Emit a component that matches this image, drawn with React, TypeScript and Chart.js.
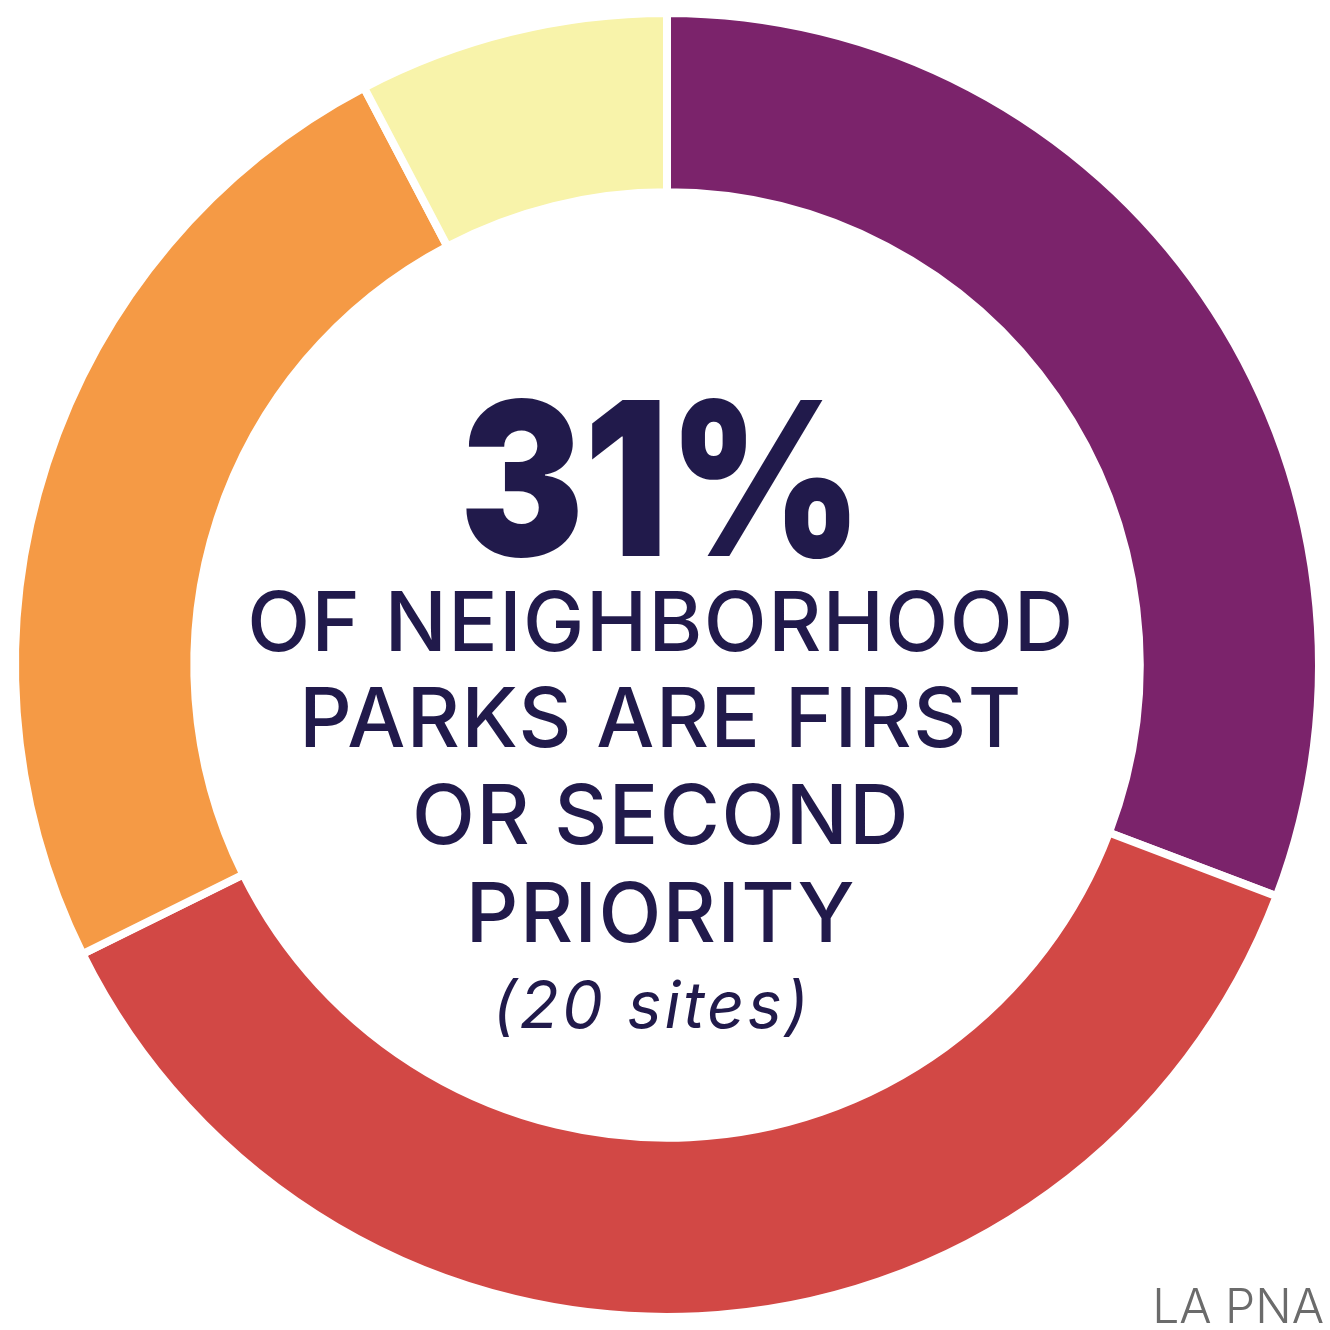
import React, { useEffect, useRef } from "react";
import { Chart, registerables } from "chart.js";

Chart.register(...registerables);

const categories = ["First or second priority", "Third priority", "Fourth priority", "Fifth priority"];
const siteCounts = [20, 24, 16, 5];
const segmentColors = ["#7B236B", "#D24845", "#F59A45", "#F8F3AA"];

const headline = "31%";
const bodyLines = ["OF NEIGHBORHOOD", "PARKS ARE FIRST", "OR SECOND", "PRIORITY"];
const noteText = "(20 sites)";
const sourceText = "LA PNA";

const TEXT_COLOR = "#211A4B";

const centerTextPlugin = {
  id: "centerText",
  afterDraw(chart: any) {
    const ctx = chart.ctx as any;
    ctx.save();
    ctx.fillStyle = TEXT_COLOR;
    ctx.textAlign = "center";
    ctx.textBaseline = "alphabetic";
    const cx = 660;
    ctx.save();
    ctx.translate(cx + 1, 556);
    ctx.scale(0.87, 1);
    ctx.font = "900 214px Inter";
    ctx.fillText(headline, 0, 0);
    ctx.restore();

    ctx.font = "500 82px Inter";
    ctx.letterSpacing = "1.5px";
    const baselines = [651, 747, 844, 942];
    bodyLines.forEach((t, i) => ctx.fillText(t, cx + 1, baselines[i]));

    ctx.font = "italic 400 65px Inter";
    ctx.letterSpacing = "3px";
    ctx.fillText(noteText, cx - 8, 1028);

    ctx.letterSpacing = "0px";
    ctx.fillStyle = "#6b6b6b";
    ctx.textAlign = "right";
    ctx.font = "300 48px Inter";
    ctx.fillText(sourceText, 1324, 1323);
    ctx.restore();
  },
};

export default function App() {
  const ref = useRef<HTMLCanvasElement | null>(null);
  useEffect(() => {
    if (!ref.current) return;
    const chart = new Chart(ref.current, {
      type: "doughnut",
      data: {
        labels: categories,
        datasets: [
          {
            data: siteCounts,
            backgroundColor: segmentColors,
            borderColor: "#ffffff",
            borderWidth: 8,
            hoverOffset: 0,
          },
        ],
      },
      options: {
        responsive: false,
        maintainAspectRatio: false,
        animation: false,
        devicePixelRatio: 1,
        cutout: "72.5%",
        layout: { padding: { left: 11, right: 7, top: 9, bottom: 9 } },
        plugins: {
          legend: { display: false },
          tooltip: { enabled: false },
        },
      },
      plugins: [centerTextPlugin],
    });
    return () => chart.destroy();
  }, []);
  return (
    <div style={{ position: "fixed", left: 0, top: 0, width: 1330, height: 1330, background: "#ffffff" }}>
      <canvas ref={ref} width={1330} height={1330} style={{ width: 1330, height: 1330 }} />
    </div>
  );
}
